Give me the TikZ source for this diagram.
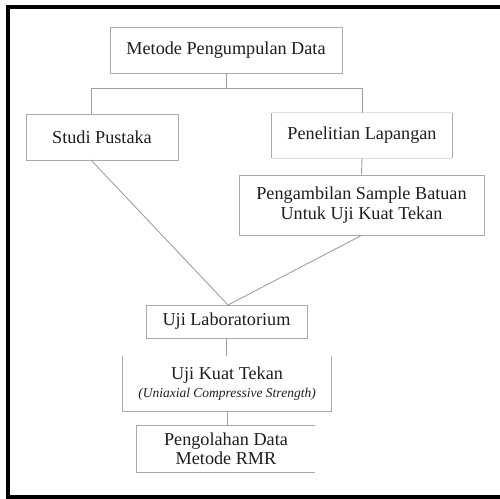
\documentclass[tikz,border=0pt]{standalone}
\usepackage{fontspec}
\setmainfont{Liberation Serif}
\definecolor{txt}{HTML}{1E1E1E}
\definecolor{ln}{HTML}{A0A0A0}
\definecolor{edge}{HTML}{AAAAAA}
\definecolor{faint}{HTML}{DDDDDD}
\begin{document}
\begin{tikzpicture}[x=1pt,y=-1pt,
  lbl/.style={text=txt,font=\fontsize{18.2}{19.5}\selectfont,align=center,inner sep=0pt},
  boxed/.style={draw=edge,line width=0.9pt},
  conn/.style={draw=ln,line width=0.9pt}]
\useasboundingbox (0,0) rectangle (500,498);
\clip (0,0) rectangle (500,498);
\fill[white] (0,0) rectangle (500,498);
\draw[line width=4pt,black] (8,7) rectangle (510,497);

% boxes
\node[lbl,boxed,minimum width=232pt,minimum height=46pt] (metode) at (226,50) {Metode Pengumpulan Data};
\node[lbl,boxed,minimum width=152pt,minimum height=46pt] (studi) at (102,137) {Studi Pustaka};
\node[lbl,minimum width=180pt,minimum height=45pt] (penel) at (362,135.5) {Penelitian Lapangan};
\node[lbl,boxed,minimum width=245pt,minimum height=60pt] (ambil) at (361.5,205) {Pengambilan Sample Batuan\\Untuk Uji Kuat Tekan};
\node[lbl,boxed,minimum width=161pt,minimum height=33pt] (lab) at (226.5,321.5) {Uji Laboratorium};
\node[lbl,minimum width=208pt,minimum height=55pt] (ukt) at (227,383.5) {Uji Kuat Tekan\\[-1pt]{\fontsize{13.5}{15}\selectfont\itshape (Uniaxial Compressive Strength)}};
\node[lbl,minimum width=178pt,minimum height=46pt] (olah) at (226,449) {Pengolahan Data\\Metode RMR};

% partial box borders
\draw[draw=faint,line width=0.9pt] (penel.north west) -- (penel.north east);
\draw[draw=faint,line width=0.9pt] (penel.south west) -- (penel.south east);
\draw[boxed] (penel.north west) -- (penel.south west);
\draw[boxed] (penel.north east) -- (penel.south east);
\draw[boxed] (ukt.north west) -- (ukt.south west) -- (ukt.south east) -- (ukt.north east);
\draw[boxed] (olah.north east) -- (olah.north west) -- (olah.south west) -- (olah.south east);

% connectors
\coordinate (split) at (metode.south |- 0,88);
\coordinate (sl) at (91,88);
\coordinate (sr) at (penel.north |- 0,88);
\draw[conn] (metode.south) -- (split);
\draw[conn] (sl) -- (sr);
\draw[conn] (sl) -- (sl |- studi.north);
\draw[conn] (sr) -- (penel.north);
\draw[conn] (penel.south) -- (ambil.north);
\coordinate (labtop) at (228,305);
\draw[conn] (91,160) -- (labtop);
\draw[conn] (ambil.south) -- (labtop);
\draw[conn] (lab.south) -- (lab.south |- ukt.north);
\draw[conn] (ukt.south) -- (ukt.south |- olah.north);
\end{tikzpicture}
\end{document}
